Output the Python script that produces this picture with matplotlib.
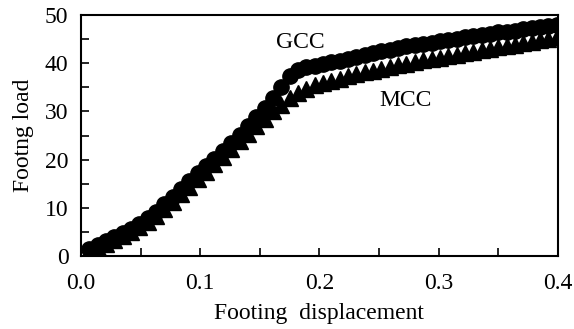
import matplotlib
matplotlib.use('Agg')
import matplotlib.pyplot as plt
from matplotlib.ticker import MultipleLocator, FormatStrFormatter

# footing displacement at each load step
disp = [0.007, 0.014, 0.021, 0.028, 0.035, 0.042, 0.049, 0.056, 0.063, 0.070,
        0.077, 0.084, 0.091, 0.098, 0.105, 0.112, 0.119, 0.126, 0.133, 0.140,
        0.147, 0.154, 0.161, 0.168, 0.175, 0.182, 0.189, 0.196, 0.203, 0.210,
        0.217, 0.224, 0.231, 0.238, 0.245, 0.252, 0.259, 0.266, 0.273, 0.280,
        0.287, 0.294, 0.301, 0.308, 0.315, 0.322, 0.329, 0.336, 0.343, 0.350,
        0.357, 0.364, 0.371, 0.378, 0.385, 0.392, 0.399]

gcc_load = [1.5, 2.3, 3.1, 3.9, 4.8, 5.7, 6.7, 7.9, 9.2, 10.7,
            12.3, 14.0, 15.6, 17.2, 18.7, 20.2, 21.8, 23.5, 25.2, 27.0,
            28.8, 30.8, 32.8, 35.0, 37.4, 38.7, 39.2, 39.5, 39.8, 40.2,
            40.5, 40.9, 41.3, 41.7, 42.1, 42.5, 42.8, 43.2, 43.5, 43.8,
            44.1, 44.3, 44.6, 44.8, 45.1, 45.4, 45.6, 45.9, 46.1, 46.4,
            46.6, 46.8, 47.1, 47.3, 47.5, 47.7, 47.9]

mcc_load = [0.9, 1.7, 2.5, 3.3, 4.1, 5.0, 6.0, 7.1, 8.4, 9.8,
            11.3, 12.9, 14.4, 16.0, 17.5, 19.0, 20.6, 22.2, 23.8, 25.4,
            27.0, 28.5, 30.0, 31.4, 32.7, 33.8, 34.7, 35.4, 35.9, 36.4,
            36.8, 37.3, 37.7, 38.1, 38.5, 38.9, 39.2, 39.6, 39.9, 40.3,
            40.6, 40.9, 41.2, 41.5, 41.8, 42.1, 42.4, 42.7, 43.0, 43.3,
            43.6, 43.9, 44.2, 44.5, 44.8, 45.1, 45.4]

plt.rcParams['font.family'] = ['Liberation Serif', 'DejaVu Serif']
plt.rcParams['font.size'] = 17

fig = plt.figure(figsize=(5.74, 3.29), dpi=100)
ax = fig.add_axes([0.141, 0.222, 0.831, 0.732])

ax.plot(disp, mcc_load, linestyle='none', marker='^', markersize=12,
        color='black')
ax.plot(disp, gcc_load, linestyle='none', marker='o', markersize=11,
        color='black')

ax.text(0.184, 44.3, 'GCC', ha='center', va='center')
ax.text(0.272, 32.3, 'MCC', ha='center', va='center')

ax.set_xlim(0, 0.4)
ax.set_ylim(0, 50)
ax.xaxis.set_major_locator(MultipleLocator(0.1))
ax.xaxis.set_minor_locator(MultipleLocator(0.05))
ax.yaxis.set_major_locator(MultipleLocator(10))
ax.yaxis.set_minor_locator(MultipleLocator(5))
ax.xaxis.set_major_formatter(FormatStrFormatter('%.1f'))
ax.tick_params(which='both', direction='in', length=6, width=1.2)
ax.tick_params(axis='x', which='major', pad=12)
ax.tick_params(axis='y', which='major', pad=9)
ax.tick_params(top=False, right=False, which='both')
for s in ax.spines.values():
    s.set_linewidth(1.5)

ax.set_xlabel('Footing  displacement', labelpad=7)
ax.set_ylabel('Footng load', labelpad=8)

fig.savefig('out.png', dpi=100)
